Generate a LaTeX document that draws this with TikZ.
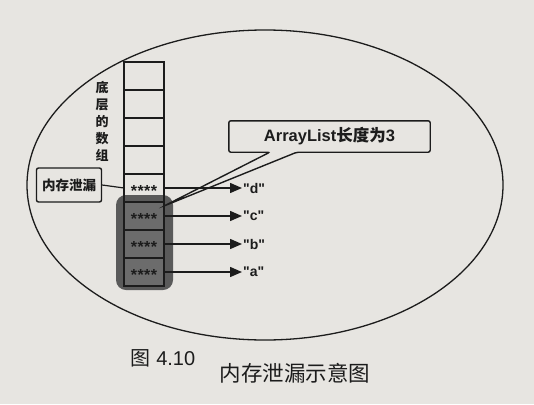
\documentclass[tikz,border=0pt]{standalone}
\usepackage{fontspec}
\setmainfont{Liberation Sans}
\newfontfamily\cjk{Noto Sans CJK SC}
\usetikzlibrary{arrows.meta,calc}
\definecolor{paper}{RGB}{231,229,225}
\definecolor{ink}{RGB}{28,28,28}
\definecolor{shadecol}{RGB}{90,90,90}
\definecolor{cellgray}{RGB}{108,108,108}
\newcommand{\stars}{\raisebox{-0.55em}[0pt][0pt]{*\kern0.5pt*\kern0.5pt*\kern0.5pt*}}
\newcommand{\qd}{\textquotedbl}
\begin{document}
\begin{tikzpicture}[x=1pt,y=-1pt,
  cell/.style={draw=ink,line width=1.4pt,minimum width=40pt,minimum height=28pt,inner sep=0pt,outer sep=0pt,text=ink,font=\bfseries\fontsize{16}{16}\selectfont},
  full/.style={cell,fill=cellgray},
  ptr/.style={draw=ink,line width=1.5pt,-{Triangle[length=12pt,width=10pt]}},
  val/.style={font=\bfseries\fontsize{14}{14}\selectfont,text=ink,anchor=west,inner sep=1pt},
  box/.style={draw=ink,line width=1.4pt,rounded corners=2pt}]
\fill[paper] (0,0) rectangle (534,404);
\useasboundingbox (0,0) rectangle (534,404);
% the heap
\draw[ink,line width=1.3pt] (265,185) ellipse [x radius=238pt, y radius=155pt];
% shaded region of the three live elements
\fill[shadecol,rounded corners=10pt] (116,195) rectangle (173,290);
% the underlying array
\node[cell] (c1) at (144,76) {};
\node[cell] (c2) at (144,104) {};
\node[cell] (c3) at (144,132) {};
\node[cell] (c4) at (144,160) {};
\node[cell] (c5) at (144,188) {\stars};
\node[full] (c6) at (144,216) {\stars};
\node[full] (c7) at (144,244) {\stars};
\node[full] (c8) at (144,272) {\stars};
% vertical label
\node[font=\cjk\bfseries\fontsize{13}{17}\selectfont,text=ink,align=center,inner sep=0pt] (arr) at (102,121) {底\\层\\的\\数\\组};
% referenced values
\node[val] (vd) at (242,188) {\qd d\qd};
\node[val] (vc) at (242,216) {\qd c\qd};
\node[val] (vb) at (242,244) {\qd b\qd};
\node[val] (va) at (242,272) {\qd a\qd};
\draw[ptr] (c5.east) -- (vd.west);
\draw[ptr] (c6.east) -- (vc.west);
\draw[ptr] (c7.east) -- (vb.west);
\draw[ptr] (c8.east) -- (va.west);
% memory leak label
\node[box,font=\cjk\bfseries\fontsize{13.5}{13.5}\selectfont,text=ink,minimum width=65pt,minimum height=34pt,inner sep=2pt] (leak) at (69,185) {内存泄漏};
\draw[ink,line width=1.2pt] (leak.east) -- (c5.west);
% callout
\node[font=\bfseries\fontsize{16.5}{16.5}\selectfont,text=ink,minimum width=201pt,minimum height=31pt,inner sep=0pt] (len) at (329.5,136.5) {ArrayList{\cjk\bfseries 长度为}3};
\coordinate (tip) at ([yshift=-4pt]c6.north east);
\draw[box] (len.north west) -- (len.north east) -- (len.south east)
  -- ([xshift=68pt]len.south west) -- (tip) -- ([xshift=41pt]len.south west)
  -- (len.south west) -- cycle;
% caption
\node[font=\fontsize{20}{20}\selectfont,text=ink] (fig) at (163,358) {{\cjk 图} 4.10};
\node[font=\cjk\fontsize{21.5}{21.5}\selectfont,text=ink] (title) at (295,373) {内存泄漏示意图};
\end{tikzpicture}
\end{document}
